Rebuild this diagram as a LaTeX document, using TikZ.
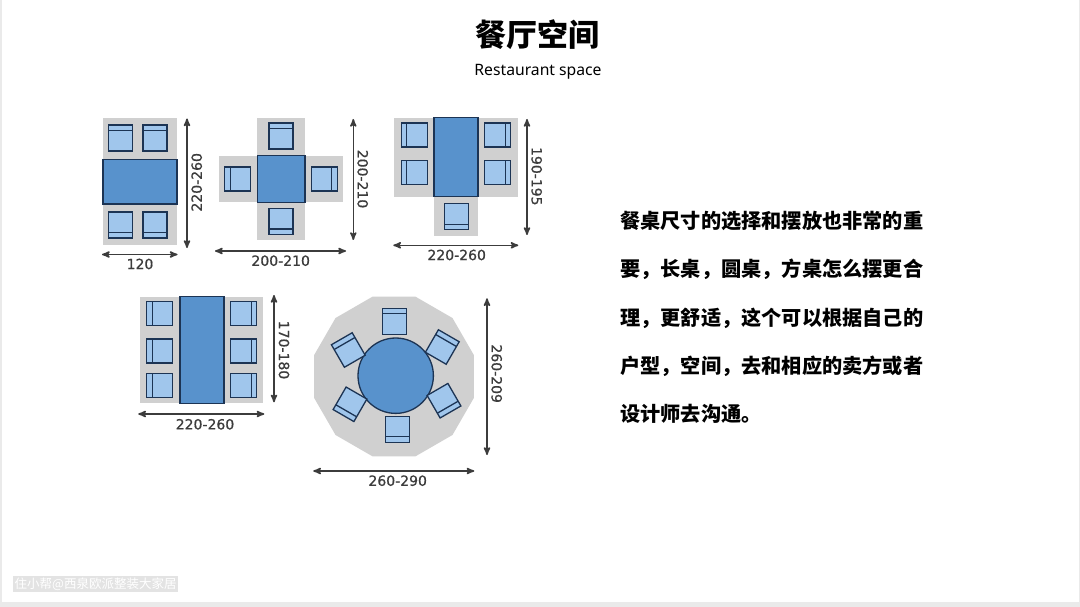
\documentclass[tikz,border=0pt]{standalone}
\usepackage{fontspec}
\setmainfont{Noto Sans}
\newfontfamily\cjkfont{Noto Sans CJK SC}
\newfontfamily\sizefont[FakeBold=0.7]{DejaVu Sans}
\usetikzlibrary{arrows}
\definecolor{floorgray}{RGB}{208, 208, 208}
\definecolor{tableblue}{RGB}{88, 146, 204}
\definecolor{chairblue}{RGB}{160, 198, 236}
\definecolor{edgenavy}{RGB}{28, 52, 84}
\definecolor{sizegray}{RGB}{60, 60, 60}
\definecolor{framegray}{RGB}{234, 234, 234}
\tikzset{
    tablebox/.style={draw=edgenavy, fill=tableblue, line width=1.3pt},
    sizearrow/.style={<->, >=stealth', draw=sizegray, line width=1.6pt},
    sizelabel/.style={text=sizegray, font=\sizefont\fontsize{14}{15}\selectfont, inner sep=0pt},
    chair/.pic={
        \filldraw[draw=edgenavy, fill=chairblue, line width=1.3pt] (-12,-13) rectangle (12,13);
        \draw[edgenavy, line width=1.3pt] (-12,-7.5) -- (12,-7.5);
    }
}
\begin{document}
\begin{tikzpicture}[x=1pt, y=-1pt]
    \useasboundingbox (0,0) rectangle (1080,607);
    \fill[white]                   (0,0)     rectangle (1080,607);
    \fill[framegray]               (0,601.5) rectangle (1080,607);
    \fill[framegray]               (0,0)     rectangle (1.5,607);
    \fill[framegray]               (1078.5,0) rectangle (1080,607);

    \node[font=\cjkfont\bfseries\fontsize{31}{34}\selectfont, inner sep=0pt] (title) at (537,35) {餐厅空间};
    \node[font=\fontsize{15.7}{18}\selectfont, inner sep=0pt] (subtitle) at (538,72) {Restaurant space};

    % two by two
    \fill[floorgray]               (103,118)     rectangle (177,245);
    \filldraw[tablebox]            (103,159.5)   rectangle (177,204);
    \foreach \x in {120.5,155} {
        \pic            at (\x,138) {chair};
        \pic[rotate=180] at (\x,225) {chair};
    }
    \draw[sizearrow]               (187,118.5) -- (187,248);
    \draw[sizearrow]               (102,254.5) -- (177.5,254.5);
    \node[sizelabel, rotate=90]    (lenA) at (196.7,182.3) {220-260};
    \node[sizelabel]               (widA) at (140,264)     {120};

    % square
    \fill[floorgray]               (257.3,117.7) rectangle (305,240);
    \fill[floorgray]               (219.3,155.7) rectangle (342.7,202.3);
    \filldraw[tablebox]            (257.3,155.7) rectangle (305,202.3);
    \pic             at (281,136)     {chair};
    \pic[rotate=180] at (281,221.5)   {chair};
    \pic[rotate=90]  at (237.7,179)   {chair};
    \pic[rotate=-90] at (324.2,179)   {chair};
    \draw[sizearrow]               (353.3,119) -- (353.3,240);
    \draw[sizearrow]               (215,251)   -- (346,251);
    \node[sizelabel, rotate=-90]   (lenB) at (362.7,179)   {200-210};
    \node[sizelabel]               (widB) at (280.7,260.7) {200-210};

    % long table, five seats
    \fill[floorgray]               (394.3,117.7) rectangle (517.7,196.7);
    \fill[floorgray]               (434,196.7)   rectangle (478,236);
    \filldraw[tablebox]            (434,117.7)   rectangle (478,196.7);
    \foreach \y in {135,172.7} {
        \pic[rotate=90]  at (414.2,\y) {chair};
        \pic[rotate=-90] at (497.8,\y) {chair};
    }
    \pic[rotate=180] at (456.5,216.8) {chair};
    \draw[sizearrow]               (527,119)   -- (527,235);
    \draw[sizearrow]               (393.3,245.3) -- (518.3,245.3);
    \node[sizelabel, rotate=-90]   (lenC) at (536.7,176.3) {190-195};
    \node[sizelabel]               (widC) at (456.7,255)   {220-260};

    % long table, six seats
    \fill[floorgray]               (140,296.7)   rectangle (263.3,403.3);
    \filldraw[tablebox]            (180,296.7)   rectangle (224,403.3);
    \foreach \y in {313.3,351,385.3} {
        \pic[rotate=90]  at (159.8,\y) {chair};
        \pic[rotate=-90] at (243.8,\y) {chair};
    }
    \draw[sizearrow]               (274,295)   -- (274,402.3);
    \draw[sizearrow]               (138.3,414) -- (264.3,414);
    \node[sizelabel, rotate=-90]   (lenD) at (284,350)     {170-180};
    \node[sizelabel]               (widD) at (205,424.3)   {220-260};

    % round table
    \fill[floorgray, shift={(394,376.5)}] (15:82.7)
        \foreach \a in {45,75,...,345} { -- (\a:82.7) } -- cycle;
    \filldraw[tablebox]            (395.7,375.7) circle (37.7);
    \pic             at (394.2,321.3) {chair};
    \pic[rotate=180] at (397.7,429.3) {chair};
    \pic[rotate=30]  at (348.3,350)   {chair};
    \pic[rotate=-30] at (442.3,347)   {chair};
    \pic[rotate=150] at (350,404.3)   {chair};
    \pic[rotate=-150] at (444,400.7)  {chair};
    \draw[sizearrow]               (487,298.3) -- (487,455);
    \draw[sizearrow]               (313.3,471) -- (474.3,471);
    \node[sizelabel, rotate=-90]   (lenE) at (496.7,373.7) {260-209};
    \node[sizelabel]               (widE) at (397.7,480.7) {260-290};

    \node[anchor=north west, inner sep=0pt, align=left, font=\cjkfont\bfseries\fontsize{20.2}{48.3}\selectfont] (body) at (620,211) {餐桌尺寸的选择和摆放也非常的重\\要，长桌，圆桌，方桌怎么摆更合\\理，更舒适，这个可以根据自己的\\户型，空间，去和相应的卖方或者\\设计师去沟通。};

    \node[anchor=west, fill=gray!22, text=white, inner sep=1.5pt, font=\cjkfont\fontsize{12.5}{14}\selectfont] (mark) at (13,584) {住小帮@西泉欧派整装大家居};
\end{tikzpicture}
\end{document}
